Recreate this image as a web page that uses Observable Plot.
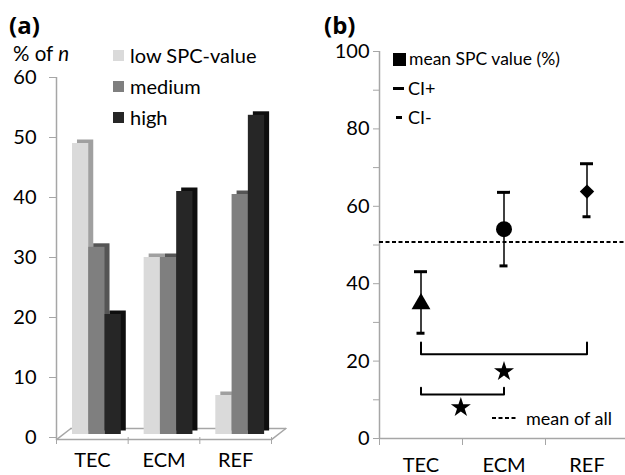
<!DOCTYPE html>
<html><head><meta charset="utf-8">
<script src="https://cdn.jsdelivr.net/npm/d3@7"></script>
<script src="https://cdn.jsdelivr.net/npm/@observablehq/plot@0.6"></script>
<style>
body{margin:0;background:#fff;}
#wrap{position:relative;width:625px;height:475px;font-family:Lato,"Open Sans",sans-serif;overflow:hidden;background:#fff;color:#000}
.abs{position:absolute;white-space:nowrap;line-height:20px;height:20px;font-size:18px}
.sw{position:absolute}
#wrap svg{position:absolute;top:0;overflow:visible}
</style></head><body><div id="wrap"></div>
<script>
// ---------- data: panel (a) ----------
const categories = ["TEC", "ECM", "REF"];
const seriesNames = ["low SPC-value", "medium", "high"];
const lowValues = [48.5, 29.5, 6.5];
const mediumValues = [31.2, 29.5, 40];
const highValues = [20, 40.5, 53.2];
const yTicksA = [0, 10, 20, 30, 40, 50, 60];
// ---------- data: panel (b) ----------
const meanSPC = [34.8, 54.1, 63.8];
const ciPlus = [43.1, 63.6, 71.0];
const ciMinus = [27.2, 44.6, 57.3];
const markerSymbols = ["triangle", "circle", "diamond2"];
const meanOfAll = 50.8;
const yTicksB = [0, 10, 20, 30, 40, 50, 60, 70, 80, 90, 100];
const yLabelsB = [0, 20, 40, 60, 80, 100];
const bracketFrom = [0, 0];   // category index
const bracketTo = [2, 1];
const bracketY = [21.8, 11.4];
const bracketCapY = [24.8, 13.1];
const starX = [1.5, 0.98];
const starY = [17.3, 8.0];

const frontColors = ["#dadada", "#7f7f7f", "#262626"];
const sideColors = ["#a0a0a0", "#555555", "#0e0e0e"];
const axisGrey = "#a6a6a6";
const wrap = document.getElementById("wrap");
const FONT = "Lato, 'Open Sans', sans-serif";

// ---------- panel (a) ----------
const seriesValues = [lowValues, mediumValues, highValues];
const barW = 0.227, barOff = 0.223;
const bars = [];
categories.forEach((c, ci) => seriesNames.forEach((s, sj) => {
  bars.push({cat: c, series: s, sj, value: seriesValues[sj][ci],
    x1: ci + barOff + sj * barW, x2: ci + barOff + (sj + 1) * barW});
}));
const fy = -0.35, fdx = 0.2, fdy = 1.85; // floor depth (scale units)
const n = categories.length;
const floor = [
  {k: "front", pts: [[0, fy], [n, fy]]},
  {k: "back", pts: [[fdx, fy + fdy], [n + fdx, fy + fdy]]},
  {k: "left", pts: [[0, fy], [fdx, fy + fdy]]},
  {k: "right", pts: [[n, fy], [n + fdx, fy + fdy]]}
].flatMap(d => d.pts.map(p => ({k: d.k, x: p[0], y: p[1]})));

const plotA = Plot.plot({
  width: 310, height: 475,
  marginLeft: 56, marginRight: 39, marginTop: 77, marginBottom: 38,
  x: {domain: [0, n]},
  y: {domain: [0, 60]},
  style: {fontFamily: FONT, color: "#000", background: "transparent", overflow: "visible"},
  marks: [
    Plot.line(floor, {x: "x", y: "y", z: "k", stroke: axisGrey, strokeWidth: 1.5}),
    Plot.ruleX([0], {y1: fy, y2: 60, stroke: axisGrey, strokeWidth: 1.5}),
    Plot.axisY({ticks: yTicksA, label: null, tickSize: 7, tickPadding: 13, fontSize: 20, stroke: axisGrey, fill: "#000"}),
    Plot.axisX({ticks: d3.range(0, n + 1), label: null, tickFormat: () => "", tickSize: 7, stroke: axisGrey}),
    Plot.axisX({ticks: categories.map((c, i) => i + 0.5), label: null, tickFormat: d => categories[Math.floor(d)], tickSize: 0, tickPadding: 15, fontSize: 20, fill: "#000"}),
    Plot.rect(bars, {x1: "x1", x2: "x2", y1: 0, y2: "value", dx: 5, dy: -6.5, fill: d => sideColors[d.sj]}),
    Plot.rect(bars, {x1: "x1", x2: "x2", y1: 0, y2: "value", dy: -3, fill: d => frontColors[d.sj]})
  ]
});
plotA.style.left = "0px";
wrap.appendChild(plotA);

// ---------- panel (b) ----------
const pts = categories.map((c, i) => ({cat: c, x: i + 0.5, mean: meanSPC[i], hi: ciPlus[i], lo: ciMinus[i], sym: markerSymbols[i]}));
const bracketLines = bracketFrom.flatMap((f, i) => [
  {b: i, x: f + 0.5, y: bracketCapY[i]}, {b: i, x: f + 0.5, y: bracketY[i]},
  {b: i, x: bracketTo[i] + 0.5, y: bracketY[i]}, {b: i, x: bracketTo[i] + 0.5, y: bracketCapY[i]}
]);
const starPts = starX.map((x, i) => ({x, y: starY[i]}));

const plotB = Plot.plot({
  width: 315, height: 475,
  marginLeft: 69, marginRight: 0, marginTop: 51, marginBottom: 37,
  x: {domain: [0, n], range: [69, 69 + 83 * n]},
  y: {domain: [0, 100]},
  style: {fontFamily: FONT, color: "#000", background: "transparent", overflow: "visible"},
  marks: [
    Plot.ruleX([0], {stroke: axisGrey, strokeWidth: 1.5}),
    Plot.ruleY([0], {stroke: axisGrey, strokeWidth: 1.5}),
    Plot.axisY({ticks: yTicksB, label: null, tickFormat: d => yLabelsB.includes(d) ? d : "", tickSize: 6, tickPadding: 4, fontSize: 20, stroke: axisGrey, fill: "#000"}),
    Plot.axisX({ticks: d3.range(0, n + 1), label: null, tickFormat: () => "", tickSize: 7, stroke: axisGrey}),
    Plot.axisX({ticks: categories.map((c, i) => i + 0.5), label: null, tickFormat: d => categories[Math.floor(d)], tickSize: 0, tickPadding: 19, fontSize: 20, fill: "#000"}),
    Plot.ruleY([meanOfAll], {stroke: "#000", strokeWidth: 2, strokeDasharray: "4,2.5"}),
    Plot.ruleX(pts, {x: "x", y1: "lo", y2: "hi", stroke: "#000", strokeWidth: 1.5}),
    Plot.ruleY(pts, {y: "hi", x1: "x", x2: "x", insetLeft: -6.5, insetRight: -6.5, stroke: "#000", strokeWidth: 3}),
    Plot.ruleY(pts, {y: "lo", x1: "x", x2: "x", insetLeft: -4, insetRight: -4, stroke: "#000", strokeWidth: 3}),
    Plot.dot(pts.filter(d => d.sym === "triangle"), {x: "x", y: "mean", symbol: "triangle", r: 7, fill: "#000", stroke: "none"}),
    Plot.dot(pts.filter(d => d.sym === "circle"), {x: "x", y: "mean", symbol: "circle", r: 8, fill: "#000", stroke: "none"}),
    Plot.dot(pts.filter(d => d.sym === "diamond2"), {x: "x", y: "mean", symbol: "diamond2", r: 6.5, fill: "#000", stroke: "none"}),
    Plot.line(bracketLines, {x: "x", y: "y", z: "b", stroke: "#000", strokeWidth: 2}),
    Plot.dot(starPts, {x: "x", y: "y", symbol: "star", r: 6.3, fill: "#000", stroke: "none"})
  ]
});
plotB.style.left = "310px";
wrap.appendChild(plotB);

// ---------- text, titles, legends ----------
function addText(txt, left, cy, extra = "") {
  const d = document.createElement("div");
  d.className = "abs";
  d.style.left = left + "px";
  d.style.top = (cy - 10) + "px";
  if (extra) d.style.cssText += extra;
  d.innerHTML = txt;
  wrap.appendChild(d);
}
function addSwatch(left, cy, w, h, color) {
  const d = document.createElement("div");
  d.className = "sw";
  d.style.cssText += `left:${left}px;top:${cy - h / 2}px;width:${w}px;height:${h}px;background:${color}`;
  wrap.appendChild(d);
}
addText("(a)", 9, 25, "font-weight:bold;font-size:24px;font-family:'Open Sans',sans-serif");
addText("(b)", 324, 25, "font-weight:bold;font-size:24px;font-family:'Open Sans',sans-serif");
addText("% of <i>n</i>", 13, 54, "font-size:20.5px;line-height:18px;height:18px");
const legendAY = [55, 86, 117];
seriesNames.forEach((s, i) => {
  addSwatch(113, legendAY[i], 11, 11, frontColors[i]);
  addText(s, 130, legendAY[i], "font-size:20px");
});
addSwatch(393, 59, 13, 13, "#000");
addText("mean SPC value (%)", 409, 59, "font-size:17.5px");
addSwatch(393, 88, 11, 3, "#000");
addText("CI+", 408, 88);
addSwatch(396, 117, 6, 3, "#000");
addText("CI-", 408, 117);
const dash = document.createElementNS("http://www.w3.org/2000/svg", "svg");
dash.setAttribute("width", 26); dash.setAttribute("height", 4);
dash.style.cssText = "position:absolute;left:492px;top:416px;overflow:visible";
dash.innerHTML = '<line x1="0" x2="26" y1="2" y2="2" stroke="#000" stroke-width="2" stroke-dasharray="4,2.5"/>';
wrap.appendChild(dash);
addText("mean of all", 526, 418);
</script></body></html>
